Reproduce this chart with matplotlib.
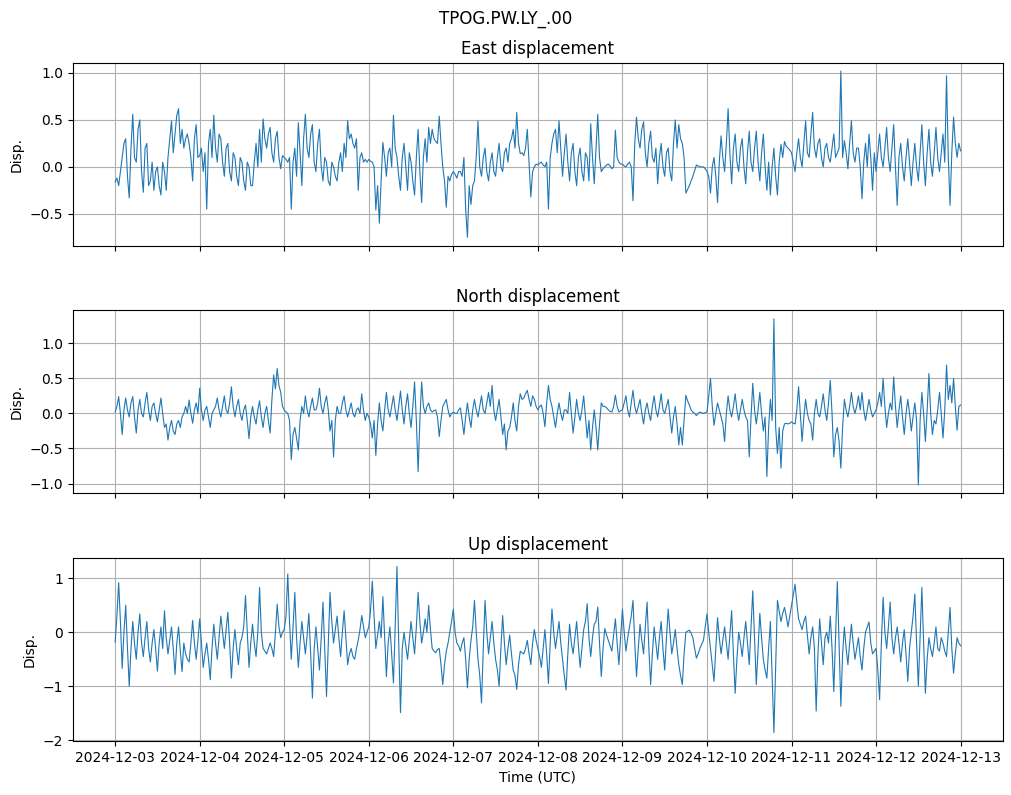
import numpy as np
import pandas as pd
import matplotlib
matplotlib.use("Agg")
import matplotlib.pyplot as plt
import matplotlib.dates as mdates

# displacement, 2024-12-03 00:00 .. 2024-12-13 00:00
# *_hour = values on the full hour, *_mid = values on the half hour in between

east_hour = [
    # 12-03
    -0.16, -0.20, 0.10, 0.30, -0.33, 0.56, 0.05, 0.50, -0.27, 0.25, -0.15, -0.25,
    0.00, -0.30, -0.05, 0.10, 0.49, 0.35, 0.62, 0.40, 0.30, 0.25, -0.15, 0.45,
    # 12-04
    0.12, -0.05, -0.45, 0.40, 0.55, 0.05, 0.30, -0.10, 0.25, -0.15, 0.10, -0.20,
    0.05, -0.25, 0.00, -0.20, 0.25, 0.40, 0.51, 0.20, 0.42, 0.05, 0.38, -0.02,
    # 12-05
    0.10, 0.05, -0.45, 0.20, 0.47, -0.20, 0.56, 0.10, 0.45, -0.05, 0.40, -0.15,
    0.05, -0.20, 0.00, -0.15, 0.15, 0.25, 0.49, 0.35, 0.20, -0.25, 0.15, 0.08,
    # 12-06
    0.08, 0.05, -0.46, -0.60, 0.26, -0.10, 0.20, 0.55, 0.10, -0.25, 0.25, -0.25,
    0.05, -0.30, 0.40, -0.38, 0.30, 0.42, 0.40, 0.27, 0.54, 0.00, -0.43, -0.15,
    # 12-07
    -0.05, -0.12, -0.05, 0.10, -0.75, -0.40, -0.15, 0.49, -0.10, 0.20, -0.15, 0.15,
    -0.10, 0.25, -0.05, 0.20, 0.25, 0.40, 0.58, 0.14, 0.12, 0.40, -0.32, 0.00,
    # 12-08
    0.02, 0.05, 0.00, -0.45, 0.25, 0.40, 0.49, -0.10, 0.35, -0.15, 0.25, -0.20,
    0.20, -0.15, 0.10, 0.46, -0.18, 0.56, -0.05, 0.00, 0.03, -0.02, 0.39, 0.05,
    # 12-09
    0.03, 0.00, 0.05, -0.36, 0.53, 0.20, 0.48, 0.00, 0.38, 0.05, -0.18, 0.25,
    -0.10, 0.20, -0.15, 0.50, 0.45, 0.25, -0.28, -0.20, -0.10, 0.02, 0.00, 0.00,
    # 12-10
    -0.05, -0.28, 0.10, -0.38, 0.33, -0.05, 0.62, -0.18, 0.35, -0.05, 0.30, -0.18,
    0.38, -0.05, 0.38, -0.15, 0.35, -0.25, -0.30, 0.20, -0.30, 0.24, 0.27, 0.20,
    # 12-11
    0.15, -0.05, 0.30, 0.00, 0.49, 0.10, 0.58, 0.10, 0.30, 0.00, 0.25, 0.05,
    0.35, 0.15, 1.02, 0.28, -0.02, 0.49, 0.05, 0.20, -0.34, 0.25, 0.35, -0.25,
    # 12-12
    -0.05, 0.35, 0.00, 0.42, -0.05, 0.45, -0.41, 0.25, -0.15, 0.30, -0.20, 0.25,
    -0.15, 0.45, -0.20, 0.40, -0.10, 0.42, -0.05, 0.35, 0.97, -0.41, 0.53, 0.10,
    0.17,
]
east_mid = [
    -0.12, -0.05, 0.25, -0.10, 0.20, 0.10, 0.40, -0.05, 0.20, -0.20, 0.05, -0.05,
    -0.20, 0.05, -0.25, 0.30, 0.15, 0.55, 0.25, 0.20, 0.35, 0.10, 0.30, 0.10,
    0.20, 0.15, 0.25, 0.10, 0.20, 0.35, 0.05, 0.20, -0.05, 0.15, -0.10, 0.10,
    -0.15, 0.05, -0.20, 0.05, 0.00, 0.05, 0.30, 0.35, 0.15, 0.30, 0.10, 0.12,
    0.08, 0.10, 0.05, -0.10, 0.15, 0.30, 0.20, 0.35, 0.05, 0.25, 0.00, 0.10,
    -0.15, 0.05, -0.10, 0.05, -0.05, 0.10, 0.30, 0.25, 0.30, 0.10, 0.05, 0.05,
    0.06, 0.00, -0.20, -0.15, 0.10, 0.15, 0.00, 0.20, -0.10, 0.10, 0.00, 0.15,
    -0.15, 0.10, -0.05, 0.10, 0.05, 0.25, 0.30, 0.25, 0.25, -0.15, -0.10, -0.08,
    -0.08, -0.05, -0.10, -0.45, -0.20, -0.20, 0.10, 0.00, 0.10, -0.05, 0.05, -0.05,
    0.10, 0.00, 0.15, 0.05, 0.30, 0.20, 0.25, 0.15, 0.20, 0.05, -0.05, 0.03,
    0.04, 0.02, 0.05, 0.10, 0.35, 0.15, 0.20, 0.15, 0.05, 0.15, -0.05, 0.10,
    -0.05, 0.15, -0.15, 0.10, 0.20, 0.10, -0.02, 0.02, 0.01, 0.00, 0.10, 0.03,
    0.01, 0.03, 0.00, 0.25, 0.30, 0.40, 0.15, 0.25, 0.10, 0.20, 0.10, 0.00,
    0.15, -0.05, 0.25, 0.20, 0.30, 0.10, -0.24, -0.15, -0.04, 0.01, 0.00, -0.02,
    -0.10, 0.00, -0.10, 0.05, 0.10, 0.25, 0.15, 0.20, 0.05, 0.20, 0.00, 0.15,
    0.05, 0.20, 0.05, 0.15, 0.00, 0.05, 0.00, -0.10, 0.05, 0.10, 0.22, 0.18,
    0.05, 0.15, 0.10, 0.25, 0.15, 0.35, 0.20, 0.25, 0.10, 0.20, 0.10, 0.20,
    0.10, 0.20, 0.10, 0.15, 0.25, 0.15, 0.20, 0.00, 0.05, 0.00, 0.10, 0.15,
    0.15, 0.10, 0.20, 0.10, 0.20, 0.00, 0.10, 0.00, 0.10, 0.05, 0.05, 0.00,
    0.15, 0.05, 0.15, 0.05, 0.15, 0.10, 0.15, 0.05, 0.10, 0.15, 0.25, 0.25,
]

north_hour = [
    # 12-03
    0.02, 0.24, -0.30, 0.22, -0.05, 0.24, -0.28, 0.20, -0.05, 0.30, -0.10, 0.15,
    -0.12, 0.22, -0.20, -0.38, -0.10, -0.30, -0.10, -0.05, 0.10, 0.19, -0.14, 0.15,
    # 12-04
    0.36, -0.10, 0.10, -0.20, 0.05, 0.22, -0.05, 0.25, 0.00, 0.38, -0.05, 0.20,
    -0.10, 0.12, -0.36, 0.10, -0.15, 0.18, -0.20, 0.10, -0.28, 0.55, 0.64, 0.30,
    # 12-05
    0.05, 0.00, -0.66, -0.20, -0.52, 0.10, 0.25, -0.05, 0.22, 0.05, 0.36, 0.00,
    0.25, -0.25, -0.62, 0.10, 0.00, 0.25, -0.05, 0.15, -0.05, 0.08, 0.28, -0.10,
    # 12-06
    -0.05, -0.35, -0.60, 0.15, -0.25, 0.30, -0.05, 0.25, -0.10, 0.32, -0.15, 0.28,
    -0.20, 0.45, -0.83, 0.45, 0.00, 0.15, 0.02, 0.05, -0.33, 0.10, 0.20, -0.05,
    # 12-07
    0.02, 0.00, 0.08, -0.30, 0.15, -0.20, 0.20, -0.05, 0.25, 0.00, 0.30, 0.40,
    -0.10, 0.20, -0.30, -0.52, -0.20, 0.15, -0.25, 0.28, 0.22, 0.33, 0.10, 0.20,
    # 12-08
    0.05, 0.12, -0.19, 0.40, 0.10, -0.20, 0.15, -0.10, 0.05, 0.30, -0.28, 0.20,
    -0.10, 0.25, -0.35, -0.52, 0.05, -0.52, 0.15, 0.10, 0.05, 0.02, 0.26, 0.02,
    # 12-09
    0.05, 0.25, -0.05, 0.33, 0.00, 0.20, -0.15, 0.15, -0.10, 0.25, -0.05, 0.28,
    0.00, 0.20, -0.28, 0.10, -0.45, -0.45, 0.26, 0.12, 0.02, -0.03, 0.02, 0.00,
    # 12-10
    0.02, 0.50, -0.17, 0.15, -0.05, -0.40, 0.25, -0.05, 0.28, -0.10, 0.20, -0.05,
    -0.62, 0.43, -0.15, 0.30, -0.25, -0.90, 0.20, 1.35, -0.57, -0.78, -0.15, -0.15,
    # 12-11
    -0.12, -0.15, 0.38, -0.40, 0.20, -0.10, -0.38, 0.20, -0.05, 0.28, -0.10, 0.47,
    -0.62, -0.20, -0.78, 0.20, -0.05, 0.30, 0.00, 0.25, 0.30, -0.10, 0.20, -0.05,
    # 12-12
    0.05, 0.30, 0.50, -0.20, 0.15, 0.52, -0.20, 0.25, -0.30, 0.20, -0.25, 0.15,
    -1.02, 0.30, -0.40, 0.57, -0.30, -0.15, 0.30, -0.35, 0.69, 0.40, 0.50, -0.24,
    0.12,
]
north_mid = [
    0.10, 0.00, 0.05, 0.05, 0.15, -0.05, 0.05, 0.00, 0.15, 0.05, 0.10, 0.00,
    0.05, 0.00, -0.15, -0.20, -0.25, -0.15, -0.20, 0.00, 0.00, 0.00, 0.05, 0.00,
    0.05, 0.05, -0.05, 0.00, 0.10, 0.05, 0.10, 0.05, 0.15, 0.10, 0.10, 0.00,
    0.05, -0.10, -0.05, -0.05, 0.05, -0.05, 0.00, -0.10, 0.20, 0.35, 0.40, 0.10,
    0.02, -0.10, -0.30, -0.35, -0.10, 0.00, 0.05, 0.10, 0.05, 0.15, 0.10, 0.15,
    0.05, -0.10, -0.10, 0.00, 0.15, 0.05, 0.05, 0.00, 0.05, 0.00, 0.05, 0.00,
    -0.15, -0.10, -0.15, -0.10, 0.05, 0.05, 0.10, 0.05, 0.10, 0.05, 0.10, 0.00,
    0.10, -0.10, -0.10, 0.10, 0.10, 0.05, 0.04, -0.05, -0.10, 0.15, 0.05, 0.00,
    0.00, 0.05, -0.10, -0.05, -0.05, 0.05, 0.05, 0.10, 0.05, 0.15, 0.10, 0.05,
    0.05, -0.05, -0.15, -0.25, -0.05, -0.10, 0.10, 0.20, 0.28, 0.20, 0.25, 0.10,
    0.10, 0.00, 0.15, 0.20, -0.05, 0.00, 0.00, 0.05, 0.00, 0.00, -0.05, 0.00,
    0.05, -0.05, -0.10, -0.20, -0.20, -0.15, 0.10, 0.08, 0.03, 0.10, 0.10, 0.04,
    0.15, 0.05, 0.15, 0.10, 0.10, 0.00, 0.05, 0.00, 0.10, 0.05, 0.10, 0.05,
    0.10, -0.05, -0.05, -0.15, -0.20, -0.10, 0.18, 0.05, 0.00, 0.00, 0.01, 0.01,
    0.25, 0.10, 0.00, 0.05, -0.15, 0.00, 0.05, 0.10, 0.05, 0.05, 0.05, -0.10,
    -0.05, 0.05, 0.05, 0.00, -0.05, -0.20, -0.10, -0.20, -0.20, -0.25, -0.14, -0.14,
    -0.14, 0.05, 0.00, -0.05, 0.00, -0.15, 0.00, 0.00, 0.10, 0.05, 0.15, 0.00,
    -0.30, -0.40, -0.20, 0.05, 0.10, 0.10, 0.10, 0.05, 0.05, 0.05, 0.05, 0.00,
    0.15, 0.10, 0.10, 0.00, 0.05, 0.10, 0.05, -0.05, 0.00, 0.00, -0.05, -0.10,
    -0.10, 0.00, 0.05, 0.00, -0.10, 0.05, 0.00, 0.05, 0.20, 0.15, 0.10, 0.10,
]

up_hour = [
    # 12-03
    -0.18, 0.92, -0.67, 0.50, -1.00, 0.20, -0.50, 0.34, -0.45, 0.20, -0.55, 0.05,
    -0.72, 0.10, 0.40, -0.40, 0.10, -0.78, 0.10, -0.73, -0.40, -0.55, 0.22, -0.50,
    # 12-04
    0.25, -0.65, -0.20, -0.88, 0.15, -0.50, 0.30, -0.30, 0.37, -0.85, 0.05, -0.60,
    -0.10, 0.68, -0.65, 0.15, -0.45, 0.83, -0.30, -0.40, -0.20, -0.45, 0.52, -0.10,
    # 12-05
    0.05, 1.08, -0.50, 0.74, -0.65, 0.20, -0.40, 0.35, -1.22, 0.10, -0.70, 0.56,
    -1.19, 0.74, -0.20, 0.30, -0.45, 0.40, -0.60, -0.30, -0.50, -0.15, 0.31, -0.10,
    # 12-06
    0.10, 0.95, -0.30, 0.20, 0.66, -0.82, 0.10, -0.94, 1.22, -1.49, 0.00, -0.50,
    0.20, -0.40, 0.74, -0.20, 0.25, 0.50, -0.30, -0.38, -0.30, -0.97, -0.35, 0.00,
    # 12-07
    0.43, -0.20, -0.35, -0.10, -1.03, -0.15, 0.59, -0.50, -1.31, 0.59, -0.40, 0.20,
    -0.50, -1.00, 0.31, -0.60, -0.05, -0.70, -1.06, -0.35, -0.40, -0.15, -0.60, 0.05,
    # 12-08
    -0.30, -0.65, 0.05, -0.95, 0.43, -0.30, 0.20, -0.50, -1.07, 0.15, -0.40, 0.20,
    -0.65, 0.05, 0.53, -0.45, 0.15, 0.47, -0.82, 0.07, -0.15, -0.35, 0.25, -0.60,
    # 12-09
    0.43, -0.35, 0.10, 0.59, -0.82, 0.15, -0.40, 0.56, -0.97, 0.10, -0.50, 0.20,
    -0.70, 0.43, -0.40, 0.05, -0.60, -0.97, 0.00, 0.04, -0.10, -0.48, -0.30, -0.15,
    # 12-10
    0.34, -0.30, -0.91, 0.27, -0.40, 0.10, -0.50, 0.40, -1.13, 0.00, -0.45, 0.20,
    -0.60, 0.77, -0.97, 0.35, -0.50, -0.85, 0.20, -1.86, 0.59, 0.20, 0.46, 0.10,
    # 12-11
    0.50, 0.89, 0.25, 0.05, 0.30, -0.40, 0.10, -1.46, 0.25, -0.60, 0.00, 0.30,
    -1.10, 0.94, -1.37, 0.10, -0.60, 0.15, -0.50, -0.10, -0.70, 0.00, 0.19, -0.40,
    # 12-12
    -0.30, -1.25, 0.65, -0.30, 0.56, -0.40, 0.10, -0.55, 0.05, -0.91, 0.00, 0.71,
    -1.00, 0.83, -1.13, -0.10, -0.45, 0.10, -0.35, -0.20, -0.45, 0.46, -0.76, -0.10,
    -0.25,
]
up_mid = [
    0.30, 0.20, 0.00, -0.30, -0.30, -0.20, 0.00, -0.20, -0.10, -0.30, -0.20, -0.30,
    -0.20, -0.30, -0.10, -0.15, -0.30, -0.20, -0.35, -0.20, -0.50, -0.20, -0.20, -0.15,
    -0.20, -0.40, -0.50, -0.30, -0.20, -0.10, 0.00, 0.05, -0.20, -0.30, -0.30, -0.20,
    0.10, 0.00, -0.20, -0.20, 0.00, 0.00, -0.35, -0.30, -0.30, 0.00, 0.10, 0.00,
    0.30, 0.20, 0.10, -0.10, -0.20, -0.10, -0.05, -0.40, -0.30, -0.30, -0.10, -0.30,
    -0.20, 0.20, 0.05, -0.10, 0.00, -0.10, -0.40, -0.45, -0.30, 0.05, 0.10, 0.00,
    0.40, 0.30, -0.05, -0.10, -0.10, -0.20, -0.40, 0.10, -0.20, -0.30, -0.25, -0.15,
    -0.10, 0.10, 0.20, 0.00, 0.00, 0.05, -0.35, -0.32, -0.60, -0.60, -0.20, 0.20,
    0.00, -0.25, -0.20, -0.50, -0.50, 0.10, 0.00, -0.80, -0.30, 0.00, -0.10, -0.20,
    -0.70, -0.30, -0.20, -0.30, -0.40, -0.80, -0.60, -0.38, -0.30, -0.40, -0.20, -0.15,
    -0.45, -0.30, -0.40, -0.20, 0.00, -0.05, -0.20, -0.80, -0.40, -0.20, -0.10, -0.25,
    -0.30, 0.20, -0.10, -0.10, 0.20, -0.20, -0.30, -0.05, -0.25, -0.05, -0.20, -0.10,
    0.00, -0.10, 0.30, -0.20, -0.30, -0.15, 0.10, -0.30, -0.40, -0.20, -0.10, -0.30,
    -0.10, 0.00, -0.20, -0.30, -0.80, -0.40, 0.02, -0.02, -0.30, -0.40, -0.22, 0.10,
    0.00, -0.60, -0.30, -0.10, -0.15, -0.20, -0.05, -0.40, -0.50, -0.20, -0.10, -0.20,
    0.10, -0.10, -0.30, -0.10, -0.70, -0.30, -0.80, -0.60, 0.40, 0.35, 0.30, 0.30,
    0.70, 0.55, 0.15, 0.20, -0.05, -0.10, -0.30, -0.40, -0.20, -0.10, -0.20, -0.30,
    -0.10, -0.20, -0.40, -0.30, -0.20, -0.20, -0.30, -0.45, -0.30, 0.10, -0.20, -0.35,
    -0.70, -0.20, 0.00, 0.10, -0.10, -0.10, -0.20, -0.20, -0.40, -0.30, 0.30, -0.20,
    -0.10, -0.20, -0.50, -0.30, -0.20, -0.30, -0.10, -0.35, 0.00, -0.30, -0.40, -0.20,
]

station = "TPOG.PW.LY_.00"
titles = ["East displacement", "North displacement", "Up displacement"]


def merge(hour_vals, mid_vals):
    out = np.empty(len(hour_vals) + len(mid_vals))
    out[0::2] = hour_vals
    out[1::2] = mid_vals
    return out


east = merge(east_hour, east_mid)
north = merge(north_hour, north_mid)
up = merge(up_hour, up_mid)

times = pd.date_range("2024-12-03 00:00", periods=len(east), freq="30min")

fig, axes = plt.subplots(3, 1, figsize=(10.12, 7.95), dpi=100, sharex=True)
fig.subplots_adjust(left=0.072, right=0.991, top=0.921, bottom=0.068, hspace=0.355)
fig.suptitle(station, y=0.988)

for ax, series, title in zip(axes, [east, north, up], titles):
    ax.plot(times, series, color="tab:blue", linewidth=0.8)
    ax.set_title(title)
    ax.set_ylabel("Disp.")
    ax.grid(True)

axes[-1].xaxis.set_major_locator(mdates.DayLocator())
axes[-1].xaxis.set_major_formatter(mdates.DateFormatter("%Y-%m-%d"))
axes[-1].set_xlabel("Time (UTC)")

fig.savefig("out.png", dpi=100)
